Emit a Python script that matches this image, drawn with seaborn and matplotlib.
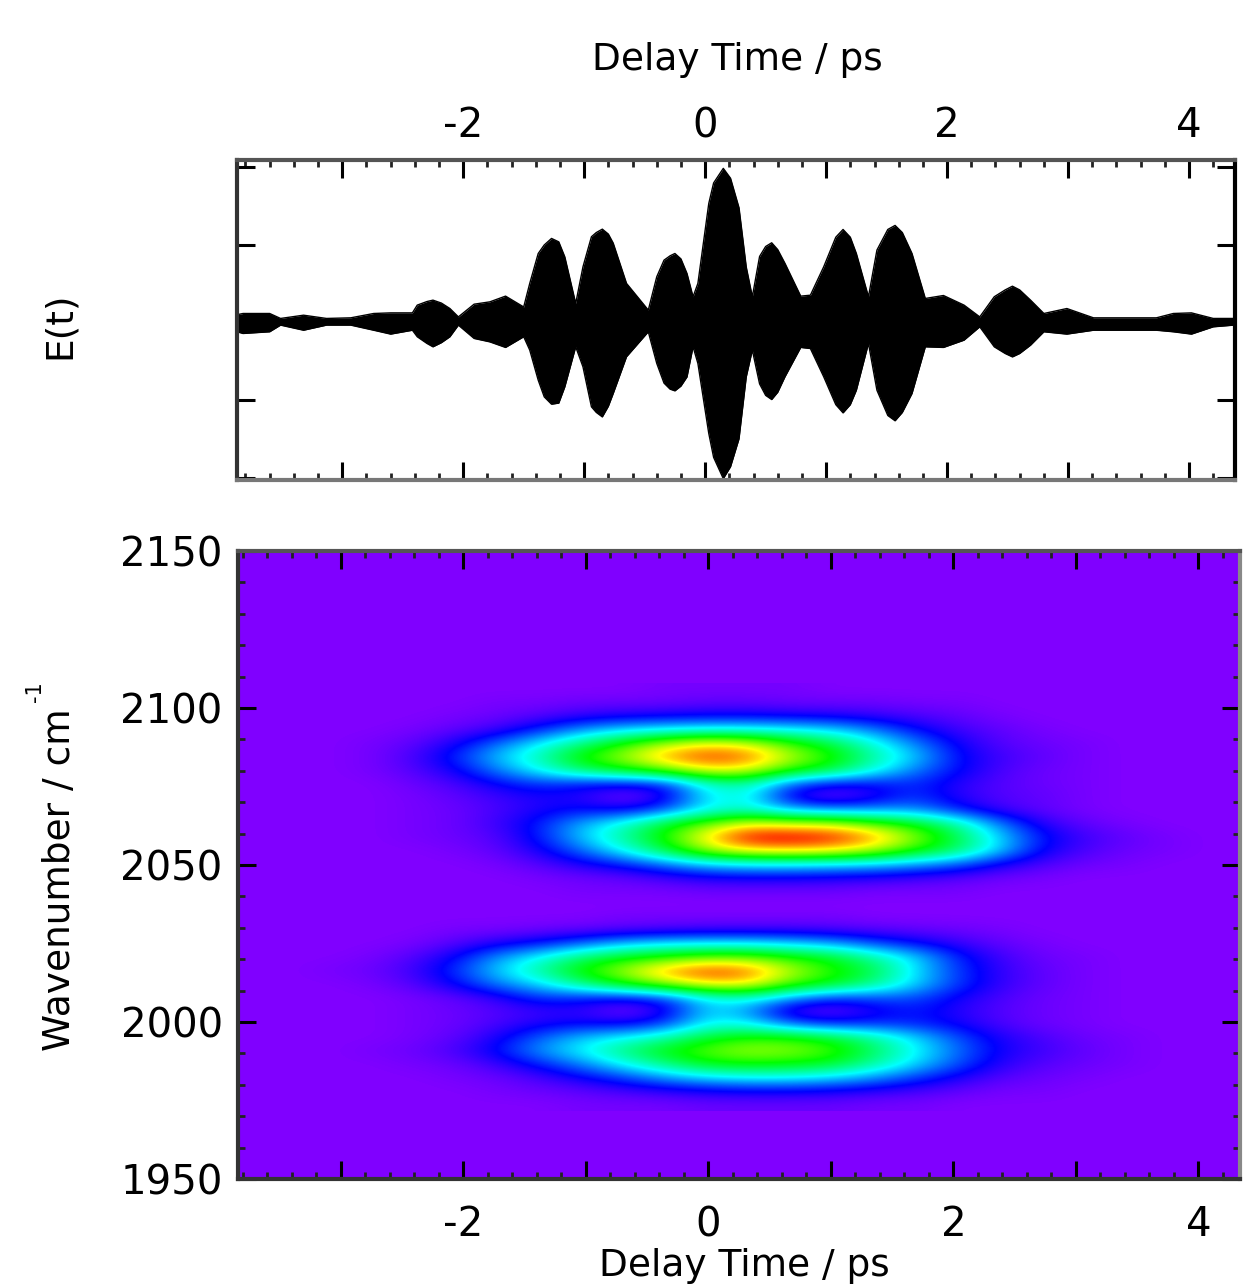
"""
Delay-time trace E(t) above its wavenumber / delay-time spectrogram
"""

import matplotlib
matplotlib.use("Agg")
import matplotlib.pyplot as plt
from matplotlib.colors import LinearSegmentedColormap
from matplotlib.ticker import FixedLocator, MultipleLocator
import numpy as np
import seaborn as sns

W, H = 1245, 1285

# ── Trace envelope ───────────────────────────────────────────────────────────
delay_time = [
    -3.87, -3.82, -3.60, -3.51, -3.32, -3.13, -2.93, -2.74, -2.60, -2.42, -2.38, -2.30, -2.25, -2.18, -2.11, -2.04,
    -1.91, -1.78, -1.65, -1.50, -1.45, -1.38, -1.33, -1.27, -1.21, -1.16, -1.07, -1.01, -0.94, -0.90, -0.85, -0.80,
    -0.76, -0.65, -0.47, -0.40, -0.34, -0.29, -0.25, -0.20, -0.15, -0.10, -0.06, 0.03, 0.07, 0.15, 0.21, 0.28, 0.34,
    0.39, 0.45, 0.50, 0.55, 0.60, 0.66, 0.79, 0.87, 0.98, 1.08, 1.14, 1.20, 1.25, 1.35, 1.42, 1.51, 1.57, 1.63, 1.71,
    1.82, 1.97, 2.14, 2.27, 2.39, 2.48, 2.54, 2.60, 2.69, 2.80, 2.99, 3.21, 3.73, 3.87, 4.02, 4.20, 4.37,
]
env_upper = [
    0.05, 0.058, 0.058, 0.026, 0.047, 0.026, 0.03, 0.058, 0.062, 0.062, 0.112, 0.135, 0.144, 0.125, 0.09, 0.036,
    0.118, 0.133, 0.17, 0.10, 0.252, 0.445, 0.50, 0.542, 0.52, 0.423, 0.123, 0.359, 0.553, 0.58, 0.602, 0.57,
    0.512, 0.252, 0.08, 0.295, 0.402, 0.43, 0.445, 0.41, 0.316, 0.166, 0.252, 0.768, 0.90, 0.994, 0.93, 0.74, 0.357,
    0.166, 0.426, 0.49, 0.514, 0.47, 0.381, 0.17, 0.176, 0.359, 0.55, 0.60, 0.55, 0.445, 0.166, 0.467, 0.60, 0.626, 0.58, 0.445,
    0.155, 0.174, 0.112, 0.036, 0.166, 0.21, 0.234, 0.21, 0.144, 0.058, 0.09, 0.03, 0.03, 0.058, 0.062, 0.026, 0.026,
]
env_lower = [
    -0.06, -0.071, -0.06, -0.017, -0.05, -0.017, -0.017, -0.05, -0.075, -0.05, -0.092, -0.135, -0.157, -0.13, -0.092, -0.017,
    -0.103, -0.125, -0.161, -0.092, -0.178, -0.372, -0.48, -0.527, -0.52, -0.415, -0.157, -0.286, -0.544, -0.58, -0.609, -0.54,
    -0.458, -0.221, -0.06, -0.264, -0.391, -0.43, -0.441, -0.41, -0.351, -0.157, -0.264, -0.716, -0.87, -1.007, -0.93, -0.75, -0.35,
    -0.178, -0.396, -0.47, -0.497, -0.45, -0.35, -0.161, -0.168, -0.35, -0.53, -0.583, -0.53, -0.437, -0.135, -0.437, -0.60, -0.634, -0.58, -0.458,
    -0.157, -0.161, -0.114, -0.028, -0.157, -0.20, -0.222, -0.20, -0.146, -0.06, -0.075, -0.05, -0.05, -0.06, -0.075, -0.028, -0.017,
]

# ── Spectrogram cells ────────────────────────────────────────────────────────
grid_delay = [-3.42, -3.08, -2.74, -2.40, -2.06, -1.72, -1.38, -1.04, -0.70, -0.36, -0.02, 0.32, 0.66, 1.00, 1.34,
              1.68, 2.02, 2.36, 2.70, 3.04, 3.38, 3.72, 4.06]
grid_wavenumber = [2105.65, 2101.40, 2097.15, 2092.90, 2088.65, 2084.40, 2080.15, 2075.90, 2071.65, 2067.40, 2063.15,
                   2058.90, 2054.65, 2050.40, 2046.15, 2041.90, 2037.65, 2033.40, 2029.15, 2024.90, 2020.65, 2016.40,
                   2012.15, 2007.90, 2003.65, 1999.40, 1995.15, 1990.90, 1986.65, 1982.40, 1978.15, 1973.90]
intensity = [
    [0, 0, 0, 0, 0, 0, 0, 0, 0, 1, 1, 1, 1, 0, 0, 0, 0, 0, 0, 0, 0, 0, 0],
    [0, 0, 0, 0, 0, 1, 1, 2, 2, 2, 3, 3, 2, 2, 2, 1, 1, 0, 0, 0, 0, 0, 0],
    [0, 0, 0, 0, 1, 2, 4, 7, 9, 10, 11, 11, 10, 9, 7, 5, 3, 1, 0, 0, 0, 0, 0],
    [0, 0, 0, 1, 3, 6, 14, 24, 30, 33, 35, 35, 33, 30, 22, 12, 6, 3, 1, 0, 0, 0, 0],
    [0, 0, 1, 3, 9, 20, 32, 44, 57, 70, 78, 74, 60, 50, 36, 22, 10, 4, 2, 1, 0, 0, 0],
    [0, 0, 1, 5, 14, 28, 40, 58, 70, 87, 96, 92, 72, 59, 42, 29, 12, 6, 3, 1, 0, 0, 0],
    [0, 0, 1, 4, 10, 22, 34, 47, 55, 64, 78, 76, 59, 51, 36, 22, 12, 5, 2, 1, 0, 0, 0],
    [0, 0, 0, 2, 5, 11, 16, 13, 12, 14, 38, 42, 20, 12, 12, 15, 8, 4, 2, 1, 0, 0, 0],
    [0, 0, 0, 1, 3, 6, 9, 8, 0, 7, 32, 36, 8, 0, 7, 16, 8, 4, 3, 1, 0, 0, 0],
    [0, 0, 0, 1, 2, 5, 9, 12, 10, 18, 34, 38, 28, 24, 24, 24, 14, 6, 3, 1, 0, 0, 0],
    [0, 0, 0, 1, 2, 6, 13, 26, 36, 52, 64, 76, 72, 72, 62, 54, 42, 22, 8, 3, 1, 0, 0],
    [0, 0, 0, 1, 2, 4, 13, 28, 42, 58, 80, 102, 104, 100, 88, 68, 50, 30, 13, 6, 3, 1, 0],
    [0, 0, 0, 0, 1, 3, 9, 20, 34, 50, 70, 80, 82, 80, 72, 58, 48, 30, 11, 5, 2, 1, 0],
    [0, 0, 0, 0, 0, 1, 4, 9, 14, 22, 30, 33, 33, 32, 30, 26, 20, 10, 5, 2, 1, 0, 0],
    [0, 0, 0, 0, 0, 0, 1, 2, 3, 6, 9, 10, 10, 9, 8, 6, 4, 2, 1, 0, 0, 0, 0],
    [0, 0, 0, 0, 0, 0, 0, 1, 1, 1, 2, 2, 2, 2, 1, 1, 1, 0, 0, 0, 0, 0, 0],
    [0, 0, 0, 0, 0, 0, 0, 0, 0, 0, 0, 0, 0, 0, 0, 0, 0, 0, 0, 0, 0, 0, 0],
    [0, 0, 0, 0, 0, 0, 0, 0, 1, 1, 1, 1, 1, 1, 0, 0, 0, 0, 0, 0, 0, 0, 0],
    [0, 0, 0, 0, 1, 1, 2, 3, 4, 5, 6, 6, 6, 5, 4, 3, 2, 1, 0, 0, 0, 0, 0],
    [0, 0, 0, 1, 4, 9, 13, 20, 28, 32, 33, 33, 30, 26, 18, 12, 7, 3, 1, 0, 0, 0, 0],
    [0, 0, 1, 4, 11, 24, 34, 46, 54, 58, 64, 64, 58, 53, 42, 30, 14, 6, 2, 1, 0, 0, 0],
    [0, 1, 2, 6, 15, 29, 42, 58, 70, 87, 96, 92, 72, 59, 50, 31, 16, 7, 3, 1, 0, 0, 0],
    [0, 0, 1, 4, 11, 22, 30, 44, 57, 68, 80, 80, 62, 55, 44, 30, 16, 7, 3, 1, 0, 0, 0],
    [0, 0, 0, 1, 3, 7, 16, 14, 12, 16, 34, 38, 26, 16, 18, 18, 10, 5, 2, 1, 0, 0, 0],
    [0, 0, 0, 1, 2, 4, 6, 7, 0, 7, 30, 24, 4, 1, 8, 13, 8, 4, 2, 1, 0, 0, 0],
    [0, 0, 0, 1, 2, 5, 9, 11, 10, 16, 34, 34, 20, 14, 15, 14, 10, 5, 2, 1, 0, 0, 0],
    [0, 0, 0, 1, 3, 9, 19, 28, 33, 40, 52, 58, 58, 52, 42, 30, 18, 9, 5, 2, 1, 0, 0],
    [0, 0, 1, 2, 5, 12, 24, 33, 45, 56, 64, 70, 68, 62, 48, 34, 21, 10, 6, 3, 1, 0, 0],
    [0, 0, 0, 1, 2, 6, 13, 22, 33, 44, 54, 56, 55, 52, 42, 30, 18, 8, 4, 2, 1, 0, 0],
    [0, 0, 0, 0, 1, 2, 5, 10, 16, 24, 30, 33, 33, 30, 24, 16, 9, 4, 2, 1, 0, 0, 0],
    [0, 0, 0, 0, 0, 1, 2, 3, 5, 7, 9, 10, 10, 9, 7, 5, 3, 1, 1, 0, 0, 0, 0],
    [0, 0, 0, 0, 0, 0, 0, 1, 1, 1, 2, 2, 2, 2, 1, 1, 0, 0, 0, 0, 0, 0, 0],
]

x_labelled = [-2, 0, 2, 4]
wavenumber_ticks = [1950, 2000, 2050, 2100, 2150]


def px_axes(fig, left, top, right, bottom):
    return fig.add_axes([left / W, 1 - bottom / H, (right - left) / W, (bottom - top) / H])


def style_delay_axis(ax, pad):
    ax.xaxis.set_major_locator(MultipleLocator(1))
    ax.xaxis.set_minor_locator(MultipleLocator(0.2))
    ax.xaxis.set_major_formatter(lambda v, pos: f"{v:.0f}" if round(v) in x_labelled else "")
    ax.tick_params(which="major", direction="in", length=13, width=2.2, top=True, bottom=True,
                   left=True, right=True, color="black", labelcolor="black", labelsize=29, pad=pad)
    ax.tick_params(which="minor", direction="in", length=5, width=2.0, top=True, bottom=True,
                   left=True, right=True, color="#222222")


sns.set_theme(style="white")
plt.rcParams["font.family"] = ["DejaVu Sans"]
plt.rcParams["axes.unicode_minus"] = False

fig = plt.figure(figsize=(W / 100, H / 100), dpi=100)

# ── Top panel: field trace ───────────────────────────────────────────────────
ax_top = px_axes(fig, 237, 160, 1235, 480)
ax_top.fill_between(delay_time, env_lower, env_upper, color="black", lw=0)
sns.lineplot(x=delay_time, y=env_upper, ax=ax_top, color="black", lw=1, sort=False, errorbar=None)
sns.lineplot(x=delay_time, y=env_lower, ax=ax_top, color="black", lw=1, sort=False, errorbar=None)
ax_top.set_xlim(-3.87, 4.38)
ax_top.set_ylim(-1.016, 1.048)
style_delay_axis(ax_top, 10)
ax_top.yaxis.set_major_locator(FixedLocator([-1, -0.5, 0, 0.5, 1]))
ax_top.tick_params(axis="x", which="both", labeltop=True, labelbottom=False)
ax_top.tick_params(axis="y", which="both", labelleft=False)
for side, colour in zip(["top", "bottom", "left", "right"], ["#555555", "#777777", "#333333", "black"]):
    ax_top.spines[side].set_visible(True)
    ax_top.spines[side].set_color(colour)
    ax_top.spines[side].set_linewidth(3)

# ── Bottom panel: spectrogram ────────────────────────────────────────────────
rainbow = LinearSegmentedColormap.from_list(
    "idl_rainbow",
    [(0.0, "#8000ff"), (0.11, "#0000ff"), (0.33, "#00ffff"), (0.56, "#00ff00"), (0.78, "#ffff00"), (1.0, "#ff0000")],
    N=512,
)
rainbow.set_under("#8000ff")

ax_map = px_axes(fig, 238, 551, 1240, 1179)
ax_map.set_facecolor("#8000ff")
half_dt = (grid_delay[1] - grid_delay[0]) / 2
half_wn = (grid_wavenumber[0] - grid_wavenumber[1]) / 2
ax_map.imshow(
    np.array(intensity, dtype=float), cmap=rainbow, vmin=0, vmax=100, aspect="auto", origin="upper",
    interpolation="bicubic", interpolation_stage="data",
    extent=[grid_delay[0] - half_dt, grid_delay[-1] + half_dt,
            grid_wavenumber[-1] - half_wn, grid_wavenumber[0] + half_wn],
)
ax_map.set_xlim(-3.84, 4.34)
ax_map.set_ylim(1950, 2150)
ax_map.grid(False)
style_delay_axis(ax_map, 19)
ax_map.yaxis.set_major_locator(FixedLocator(wavenumber_ticks))
ax_map.yaxis.set_minor_locator(MultipleLocator(10))
ax_map.tick_params(axis="y", which="major", pad=11)
for side, colour in zip(["top", "bottom", "left", "right"], ["#555555", "#333333", "#333333", "#888888"]):
    ax_map.spines[side].set_visible(True)
    ax_map.spines[side].set_color(colour)
    ax_map.spines[side].set_linewidth(3)

# ── Labels ───────────────────────────────────────────────────────────────────
fig.text(737 / W, 1 - 60 / H, "Delay Time / ps", ha="center", va="center", fontsize=27, color="black")
fig.text(744 / W, 1 - 1266 / H, "Delay Time / ps", ha="center", va="center", fontsize=27, color="black")
fig.text(60 / W, 1 - 325 / H, "E(t)", rotation=90, ha="center", va="center", fontsize=27, color="black")
fig.text(60 / W, 1 - 880 / H, "Wavenumber / cm", rotation=90, ha="center", va="center", fontsize=27, color="black")
fig.text(35 / W, 1 - 692 / H, "-1", rotation=90, ha="center", va="center", fontsize=15, color="black")

plt.savefig("out.png", dpi=100)
plt.close()
